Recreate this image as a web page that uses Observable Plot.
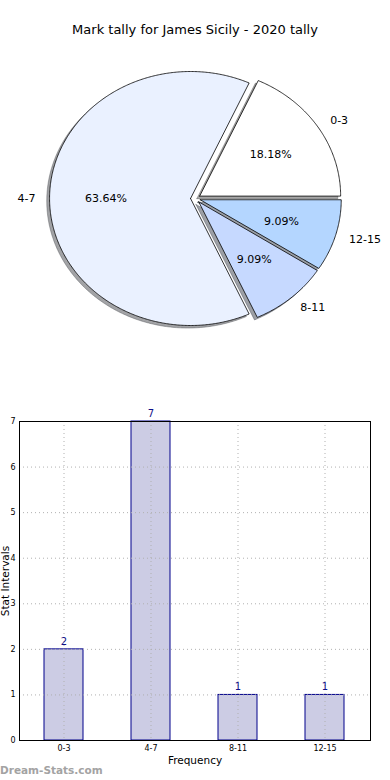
<!DOCTYPE html>
<html><head><meta charset="utf-8">
<script src="https://cdn.jsdelivr.net/npm/d3@7"></script>
<script src="https://cdn.jsdelivr.net/npm/@observablehq/plot@0.6"></script>
<style>
body{margin:0;background:#fff;font-family:"DejaVu Sans",sans-serif;}
#wrap{position:relative;width:390px;height:780px;overflow:hidden;background:#fff}
#title{position:absolute;top:21px;left:0;width:390px;text-align:center;font-size:13px;color:#000;line-height:18px}
#pie{position:absolute;top:0;left:0}
#bar{position:absolute;top:390px;left:0}
#wm{position:absolute;left:0;top:762px;font-size:10.5px;font-weight:bold;color:#a3a3a3;line-height:16px}
svg{font-family:"DejaVu Sans",sans-serif;}
</style></head>
<body><div id="wrap"><div id="pie"></div><div id="title">Mark tally for James Sicily - 2020 tally</div><div id="bar"></div><div id="wm">Dream-Stats.com</div></div>
<script>
const categories = ["0-3","4-7","8-11","12-15"];
const counts = [2,7,1,1];
const percentLabels = ["18.18%","63.64%","9.09%","9.09%"];
const sliceColors = ["#ffffff","#eaf1ff","#c6d9ff","#b4d6ff"];
const yTicks = [0,1,2,3,4,5,6,7];
const titleText = "Mark tally for James Sicily - 2020 tally";
const xLabel = "Frequency";
const yLabel = "Stat Intervals";

// ---- pie ----
const explode = 0.035;
const total = d3.sum(counts);
let acc = 0;
const wedges = categories.map((c, i) => {
  const a0 = acc / total * 2 * Math.PI;
  acc += counts[i];
  const a1 = acc / total * 2 * Math.PI;
  const mid = (a0 + a1) / 2;
  const ox = explode * Math.cos(mid), oy = explode * Math.sin(mid);
  const pts = [{x: ox, y: oy}];
  const n = Math.max(4, Math.ceil((a1 - a0) / 0.01));
  for (let k = 0; k <= n; k++) {
    const a = a0 + (a1 - a0) * k / n;
    pts.push({x: ox + Math.cos(a), y: oy + Math.sin(a)});
  }
  pts.push({x: ox, y: oy});
  const rgb = d3.rgb(sliceColors[i]);
  const shadow = d3.rgb(rgb.r * 0.3, rgb.g * 0.3, rgb.b * 0.3).formatHex();
  return {cat: c, color: sliceColors[i], shadow, pts, mid, ox, oy, pct: percentLabels[i]};
});
const labelsData = wedges.map(w => ({
  cat: w.cat,
  lx: w.ox + 1.1 * Math.cos(w.mid), ly: w.oy + 1.1 * Math.sin(w.mid),
  px: w.ox + 0.6 * Math.cos(w.mid), py: w.oy + 0.6 * Math.sin(w.mid),
  pct: w.pct, right: Math.cos(w.mid) > 0
}));

const pie = Plot.plot({
  width: 390, height: 390, margin: 0,
  x: {domain: [-195/141, 195/141], axis: null},
  y: {domain: [-192/127, 198/127], axis: null},
  marks: [
    ...wedges.map(w => Plot.line(w.pts.map(p => ({x: p.x - 0.02, y: p.y - 0.02})),
      {x: "x", y: "y", fill: w.shadow, fillOpacity: 0.5, stroke: w.shadow, strokeOpacity: 0.5, strokeWidth: 0.8})),
    ...wedges.map(w => Plot.line(w.pts, {x: "x", y: "y", fill: w.color, stroke: "#000", strokeWidth: 0.8})),
    Plot.text(labelsData.filter(d => d.right), {x: "lx", y: "ly", text: "cat", textAnchor: "start", fontSize: 11, fill: "#000"}),
    Plot.text(labelsData.filter(d => !d.right), {x: "lx", y: "ly", text: "cat", textAnchor: "end", fontSize: 11, fill: "#000"}),
    Plot.text(labelsData, {x: "px", y: "py", text: "pct", textAnchor: "middle", fontSize: 11, fill: "#000"})
  ]
});
document.getElementById("pie").append(pie);

// ---- bar ----
const barData = categories.map((c, i) => ({cat: c, count: counts[i]}));
const bar = Plot.plot({
  width: 390, height: 390,
  marginTop: 31, marginBottom: 40, marginLeft: 19, marginRight: 20,
  x: {domain: categories, paddingInner: 0.55, paddingOuter: 0.275},
  y: {domain: [0, 7]},
  marks: [
    Plot.barY(barData, {x: "cat", y: "count", fill: "#ccccE4", stroke: "#00008b", strokeWidth: 1}),
    Plot.gridY(yTicks, {stroke: "#b0b0b0", strokeOpacity: 1, strokeDasharray: "1,3"}),
    Plot.gridX(categories, {stroke: "#b0b0b0", strokeOpacity: 1, strokeDasharray: "1,3"}),
    Plot.frame({stroke: "#000", strokeWidth: 1}),
    Plot.text(barData, {x: "cat", y: "count", text: d => String(d.count), dy: -8, fontSize: 10, fill: "#101088"}),
    Plot.axisY(yTicks, {tickSize: 0, tickPadding: 4, fontSize: 8, tickFormat: d => String(d), label: yLabel, labelAnchor: "center", labelArrow: "none", labelOffset: 18, color: "#000"}),
    Plot.axisX({tickSize: 0, tickPadding: 5, fontSize: 8, label: xLabel, labelAnchor: "center", labelArrow: "none", labelOffset: 23, color: "#000"})
  ]
});
bar.querySelectorAll('[aria-label="y-axis label"] text, [aria-label="x-axis label"] text').forEach(t => t.setAttribute("font-size", "10.5"));
document.getElementById("bar").append(bar);
</script>
</body></html>
